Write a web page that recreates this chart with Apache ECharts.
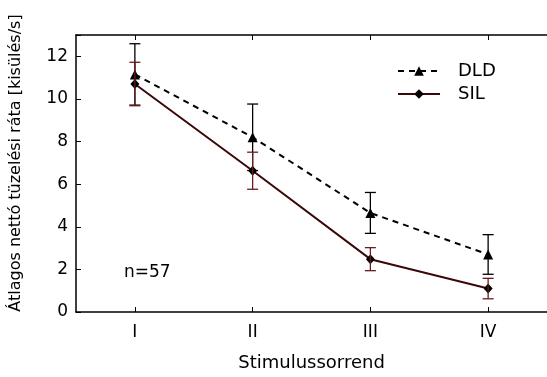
<!DOCTYPE html>
<html>
<head>
<meta charset="utf-8">
<script src="https://cdn.jsdelivr.net/npm/echarts@6/dist/echarts.min.js"></script>
<style>
  html, body { margin: 0; padding: 0; background: #fff; }
  #chart { width: 547px; height: 377px; }
</style>
</head>
<body>
<div id="chart"></div>
<script>
// Stimulus order categories
const categories = ['I', 'II', 'III', 'IV'];

// Mean net firing rate (spikes/s) and its error half-width
const dldMean = [11.15, 8.2, 4.65, 2.7];
const dldErr = [1.44, 1.56, 0.96, 0.93];
const silMean = [10.7, 6.63, 2.48, 1.1];
const silErr = [1.02, 0.87, 0.54, 0.48];

const yTicks = [0, 2, 4, 6, 8, 10, 12];

const FONT = '"DejaVu Sans", "Liberation Sans", Arial, sans-serif';
const SIL_LINE = '#3a0808';
const SIL_BAR = '#6a1c1c';

function errorData(mean, err) {
  return mean.map((m, i) => [i, m - err[i], m + err[i]]);
}

function errorBars(color) {
  return function (params, api) {
    const idx = api.value(0);
    const lo = api.coord([idx, api.value(1)]);
    const hi = api.coord([idx, api.value(2)]);
    const half = 5.5;
    const style = { stroke: color, lineWidth: 1.3, fill: null };
    return {
      type: 'group',
      children: [
        { type: 'line', shape: { x1: lo[0], y1: lo[1], x2: hi[0], y2: hi[1] }, style },
        { type: 'line', shape: { x1: lo[0] - half, y1: lo[1], x2: lo[0] + half, y2: lo[1] }, style },
        { type: 'line', shape: { x1: hi[0] - half, y1: hi[1], x2: hi[0] + half, y2: hi[1] }, style }
      ]
    };
  };
}

const chart = echarts.init(document.getElementById('chart'), null, { renderer: 'canvas' });

const axisLine = { show: true, lineStyle: { color: '#000', width: 1.5 } };
const tick = { show: true, inside: true, length: 5, lineStyle: { color: '#000', width: 1 } };

chart.setOption({
  animation: false,
  backgroundColor: '#fff',
  textStyle: { fontFamily: FONT },
  grid: { left: 76, top: 35, width: 479, height: 284 },
  legend: {
    left: 392,
    top: 57,
    orient: 'vertical',
    itemWidth: 42,
    itemHeight: 12,
    itemGap: 5,
    textStyle: { fontFamily: FONT, fontSize: 18, color: '#000', padding: [0, 0, 0, 13] },
    data: ['DLD', 'SIL']
  },
  xAxis: [
    {
      type: 'category',
      data: categories,
      boundaryGap: true,
      position: 'bottom',
      axisLine,
      axisTick: Object.assign({ alignWithLabel: true }, tick),
      axisLabel: { fontFamily: FONT, fontSize: 17, color: '#000', margin: 12 },
      name: 'Stimulussorrend',
      nameLocation: 'middle',
      nameGap: 42,
      nameTextStyle: { fontFamily: FONT, fontSize: 18, color: '#000' },
      splitLine: { show: false }
    },
    {
      type: 'category',
      data: categories,
      boundaryGap: true,
      position: 'top',
      axisLine,
      axisTick: Object.assign({ alignWithLabel: true }, tick),
      axisLabel: { show: false },
      splitLine: { show: false }
    }
  ],
  yAxis: {
    type: 'value',
    min: 0,
    max: 13,
    interval: 2,
    axisLine,
    axisTick: tick,
    axisLabel: {
      fontFamily: FONT, fontSize: 17, color: '#000', margin: 8,
      formatter: v => (yTicks.includes(v) ? String(v) : '')
    },
    splitLine: { show: false },
    name: 'Átlagos nettó tüzelési ráta [kisülés/s]',
    nameLocation: 'middle',
    nameGap: 52,
    nameRotate: 90,
    nameTextStyle: { fontFamily: FONT, fontSize: 16, color: '#000', padding: [0, 0, 0, 21] }
  },
  graphic: [
    {
      type: 'text',
      left: 124,
      top: 264,
      style: { text: 'n=57', fontFamily: FONT, fontSize: 17, fill: '#000' }
    }
  ],
  series: [
    {
      name: 'DLD',
      type: 'line',
      data: dldMean,
      symbol: 'triangle',
      symbolSize: 10,
      z: 3,
      lineStyle: { color: '#000', width: 2, type: [6, 5] },
      itemStyle: { color: '#000' }
    },
    {
      name: 'SIL',
      type: 'line',
      data: silMean,
      symbol: 'diamond',
      symbolSize: [9, 10],
      z: 3,
      lineStyle: { color: SIL_LINE, width: 2 },
      itemStyle: { color: '#000' }
    },
    {
      name: 'DLD err',
      type: 'custom',
      renderItem: errorBars('#000'),
      data: errorData(dldMean, dldErr),
      encode: { x: 0, y: [1, 2] },
      z: 4
    },
    {
      name: 'SIL err',
      type: 'custom',
      renderItem: errorBars(SIL_BAR),
      data: errorData(silMean, silErr),
      encode: { x: 0, y: [1, 2] },
      z: 4
    }
  ]
});
</script>
</body>
</html>
